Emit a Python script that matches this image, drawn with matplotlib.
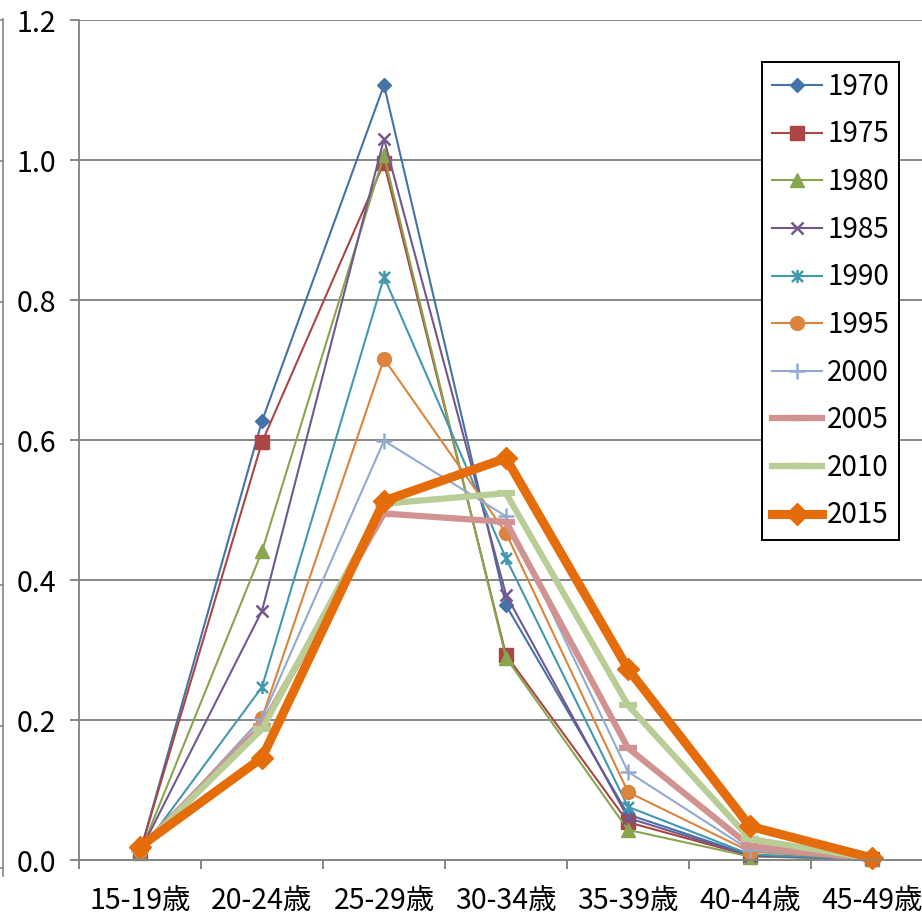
import matplotlib
matplotlib.use("Agg")
import matplotlib.pyplot as plt
from matplotlib.path import Path
from matplotlib.lines import Line2D

plt.rcParams['font.family'] = ['Noto Sans CJK JP', 'DejaVu Sans']

# Age groups (x categories)
age_groups = ["15-19歳", "20-24歳", "25-29歳", "30-34歳", "35-39歳", "40-44歳", "45-49歳"]

# Survey years (legend labels)
years = ["1970", "1975", "1980", "1985", "1990", "1995", "2000", "2005", "2010", "2015"]

# Rates per age group for each year
rate_1970 = [0.011, 0.627, 1.107, 0.364, 0.065, 0.007, 0.001]
rate_1975 = [0.011, 0.597, 0.996, 0.293, 0.054, 0.006, 0.001]
rate_1980 = [0.010, 0.441, 1.007, 0.289, 0.043, 0.005, 0.001]
rate_1985 = [0.012, 0.356, 1.030, 0.379, 0.060, 0.006, 0.001]
rate_1990 = [0.011, 0.247, 0.833, 0.431, 0.076, 0.008, 0.001]
rate_1995 = [0.013, 0.203, 0.716, 0.467, 0.097, 0.012, 0.001]
rate_2000 = [0.015, 0.202, 0.599, 0.491, 0.126, 0.014, 0.001]
rate_2005 = [0.016, 0.192, 0.495, 0.483, 0.160, 0.020, 0.001]
rate_2010 = [0.015, 0.187, 0.509, 0.524, 0.221, 0.030, 0.002]
rate_2015 = [0.019, 0.146, 0.513, 0.574, 0.273, 0.048, 0.003]

series = [rate_1970, rate_1975, rate_1980, rate_1985, rate_1990,
          rate_1995, rate_2000, rate_2005, rate_2010, rate_2015]

# Asterisk marker: an X crossed by a vertical bar
asterisk = Path([(-1, -1), (1, 1), (-1, 1), (1, -1), (0, -1.2), (0, 1.2)],
                [Path.MOVETO, Path.LINETO, Path.MOVETO, Path.LINETO,
                 Path.MOVETO, Path.LINETO])

styles = [
    dict(color="#4572A7", lw=1.5, marker="D", ms=6.8),
    dict(color="#AA4643", lw=1.5, marker="s", ms=9.5),
    dict(color="#89A54E", lw=1.5, marker="^", ms=10),
    dict(color="#71588F", lw=1.5, marker="x", ms=9, mew=1.8),
    dict(color="#4198AF", lw=1.5, marker=asterisk, ms=9.5, mew=1.8),
    dict(color="#DB843D", lw=1.5, marker="o", ms=10),
    dict(color="#93A9CF", lw=1.5, marker="+", ms=11, mew=1.8),
    dict(color="#D19392", lw=4.5, marker="_", ms=13, mew=4.5),
    dict(color="#B9CD96", lw=4.5, marker="_", ms=13, mew=4.5),
    dict(color="#E46C0A", lw=6.5, marker="D", ms=11),
]

W, H = 922, 916
fig = plt.figure(figsize=(W / 100, H / 100), dpi=100)
ax = fig.add_axes([79 / W, 56 / H, 854 / W, 840 / H])

x = list(range(len(age_groups)))
for yr, vals, st in zip(years, series, styles):
    ax.plot(x, vals, label=yr, color=st["color"], lw=st["lw"],
            marker=st["marker"], ms=st["ms"],
            mew=st.get("mew", 1.0), mec=st["color"], mfc=st["color"],
            solid_joinstyle="miter", clip_on=False)

grid_c = "#868686"
ax.set_xlim(-0.5, len(age_groups) - 0.5)
ax.set_ylim(0, 1.2)
ax.set_yticks([0, 0.2, 0.4, 0.6, 0.8, 1.0, 1.2])
ax.set_yticklabels([f"{v:.1f}" for v in [0, 0.2, 0.4, 0.6, 0.8, 1.0, 1.2]])
ax.yaxis.grid(True, color=grid_c, lw=1.4)
ax.set_axisbelow(True)

ax.set_xticks(x)
ax.set_xticklabels(age_groups)
ax.set_xticks([i - 0.5 for i in range(len(age_groups) + 1)], minor=True)
ax.tick_params(axis="x", which="major", length=0, pad=19, labelsize=20.5)
ax.tick_params(axis="x", which="minor", length=6.5, width=1.4, color=grid_c)
ax.tick_params(axis="y", length=6.5, width=1.4, color=grid_c, pad=10, labelsize=20.5)

for side in ["top", "right"]:
    ax.spines[side].set_visible(False)
for side in ["left", "bottom"]:
    ax.spines[side].set_color(grid_c)
    ax.spines[side].set_linewidth(1.4)

leg = ax.legend(loc="upper left", bbox_to_anchor=(762 / W, 1 - 62 / H),
                bbox_transform=fig.transFigure, fontsize=20, frameon=True,
                fancybox=False, borderaxespad=0, borderpad=0.35,
                handlelength=1.8, handletextpad=0.2, labelspacing=0.635)
leg.get_frame().set_edgecolor("black")
leg.get_frame().set_linewidth(1.4)
leg.get_frame().set_alpha(1)

# Thin frame edge along the left border of the figure
fy = lambda py: 1 - py / H
fig.add_artist(Line2D([2.5 / W, 2.5 / W], [fy(19), fy(876)],
                      transform=fig.transFigure, color=grid_c, lw=1.2))
for py in [20, 161, 302, 444, 585, 726, 868]:
    fig.add_artist(Line2D([0, 3 / W], [fy(py), fy(py)],
                          transform=fig.transFigure, color=grid_c, lw=1.2))

fig.savefig("out.png", dpi=100)
